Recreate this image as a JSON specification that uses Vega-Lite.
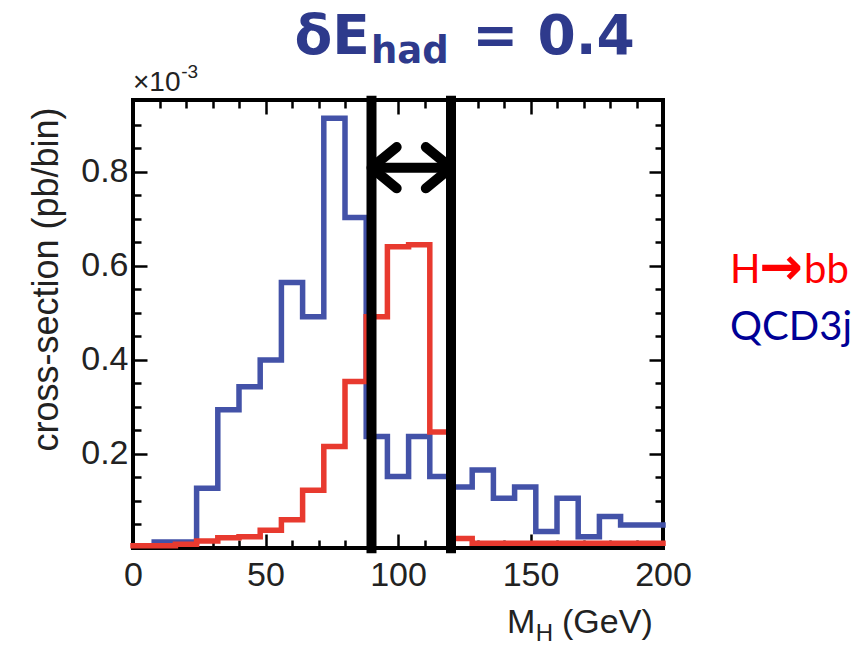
{
  "$schema": "https://vega.github.io/schema/vega-lite/v6.json",
  "width": 530,
  "height": 448,
  "autosize": "none",
  "padding": {"left": 133, "top": 100, "right": 205, "bottom": 97},
  "background": "white",
  "config": {
    "view": {"stroke": "black", "strokeWidth": 4},
    "axis": {"domain": false, "grid": false, "tickColor": "black", "tickWidth": 2.5, "labelFont": "Liberation Sans", "labelFontSize": 34, "labelColor": "#222222", "labelFlush": false, "labelOverlap": false}
  },
  "datasets": {
    "hist": [
      {"mass": 8, "xsec": 0.013, "series": "QCD3j"},
      {"mass": 16, "xsec": 0.013, "series": "QCD3j"},
      {"mass": 24, "xsec": 0.127, "series": "QCD3j"},
      {"mass": 32, "xsec": 0.294, "series": "QCD3j"},
      {"mass": 40, "xsec": 0.343, "series": "QCD3j"},
      {"mass": 48, "xsec": 0.400, "series": "QCD3j"},
      {"mass": 56, "xsec": 0.565, "series": "QCD3j"},
      {"mass": 64, "xsec": 0.492, "series": "QCD3j"},
      {"mass": 72, "xsec": 0.914, "series": "QCD3j"},
      {"mass": 80, "xsec": 0.703, "series": "QCD3j"},
      {"mass": 88, "xsec": 0.237, "series": "QCD3j"},
      {"mass": 96, "xsec": 0.152, "series": "QCD3j"},
      {"mass": 104, "xsec": 0.237, "series": "QCD3j"},
      {"mass": 112, "xsec": 0.152, "series": "QCD3j"},
      {"mass": 120, "xsec": 0.130, "series": "QCD3j"},
      {"mass": 128, "xsec": 0.166, "series": "QCD3j"},
      {"mass": 136, "xsec": 0.106, "series": "QCD3j"},
      {"mass": 144, "xsec": 0.130, "series": "QCD3j"},
      {"mass": 152, "xsec": 0.035, "series": "QCD3j"},
      {"mass": 160, "xsec": 0.106, "series": "QCD3j"},
      {"mass": 168, "xsec": 0.024, "series": "QCD3j"},
      {"mass": 176, "xsec": 0.067, "series": "QCD3j"},
      {"mass": 184, "xsec": 0.049, "series": "QCD3j"},
      {"mass": 192, "xsec": 0.049, "series": "QCD3j"},
      {"mass": 200, "xsec": 0.049, "series": "QCD3j"},
      {"mass": 0, "xsec": 0.005, "series": "H→bb"},
      {"mass": 8, "xsec": 0.005, "series": "H→bb"},
      {"mass": 16, "xsec": 0.008, "series": "H→bb"},
      {"mass": 24, "xsec": 0.015, "series": "H→bb"},
      {"mass": 32, "xsec": 0.022, "series": "H→bb"},
      {"mass": 40, "xsec": 0.024, "series": "H→bb"},
      {"mass": 48, "xsec": 0.038, "series": "H→bb"},
      {"mass": 56, "xsec": 0.060, "series": "H→bb"},
      {"mass": 64, "xsec": 0.123, "series": "H→bb"},
      {"mass": 72, "xsec": 0.216, "series": "H→bb"},
      {"mass": 80, "xsec": 0.354, "series": "H→bb"},
      {"mass": 88, "xsec": 0.492, "series": "H→bb"},
      {"mass": 96, "xsec": 0.641, "series": "H→bb"},
      {"mass": 104, "xsec": 0.645, "series": "H→bb"},
      {"mass": 112, "xsec": 0.247, "series": "H→bb"},
      {"mass": 120, "xsec": 0.020, "series": "H→bb"},
      {"mass": 128, "xsec": 0.010, "series": "H→bb"},
      {"mass": 136, "xsec": 0.010, "series": "H→bb"},
      {"mass": 144, "xsec": 0.010, "series": "H→bb"},
      {"mass": 152, "xsec": 0.010, "series": "H→bb"},
      {"mass": 160, "xsec": 0.010, "series": "H→bb"},
      {"mass": 168, "xsec": 0.010, "series": "H→bb"},
      {"mass": 176, "xsec": 0.010, "series": "H→bb"},
      {"mass": 184, "xsec": 0.010, "series": "H→bb"},
      {"mass": 192, "xsec": 0.010, "series": "H→bb"},
      {"mass": 200, "xsec": 0.010, "series": "H→bb"}
    ],
    "cuts": [
      {"cut": 90, "side": "left"},
      {"cut": 120, "side": "right"}
    ]
  },
  "layer": [
    {
      "data": {"name": "hist"},
      "mark": {"type": "line", "interpolate": "step-after", "strokeWidth": 5.5, "strokeJoin": "miter", "strokeCap": "square"},
      "encoding": {
        "x": {"field": "mass", "type": "quantitative", "scale": {"domain": [0, 200], "nice": false, "zero": false},
          "axis": {"orient": "bottom", "values": [0, 50, 100, 150, 200], "format": "d", "tickSize": -14, "labelPadding": 24, "title": null}},
        "y": {"field": "xsec", "type": "quantitative", "scale": {"domain": [0, 0.953], "nice": false},
          "axis": {"orient": "left", "values": [0.2, 0.4, 0.6, 0.8], "format": ".1f", "tickSize": -14, "labelPadding": 19,
            "title": "cross-section (pb/bin)", "titleFont": "Liberation Sans", "titleFontSize": 36, "titleFontWeight": "normal", "titleColor": "#222222",
            "titleAngle": 270, "titleX": -76, "titleY": 179, "titleAlign": "center", "titleBaseline": "alphabetic"}},
        "color": {"field": "series", "type": "nominal", "scale": {"domain": ["QCD3j", "H→bb"], "range": ["#4352A8", "#E83A2F"]}, "legend": null}
      }
    },
    {
      "data": {"name": "cuts"},
      "mark": {"type": "rule", "strokeWidth": 10, "color": "black"},
      "encoding": {
        "x": {"field": "cut", "type": "quantitative",
          "axis": {"orient": "bottom", "values": [10, 20, 30, 40, 60, 70, 80, 90, 110, 120, 130, 140, 160, 170, 180, 190], "tickSize": -8, "labels": false, "title": null}},
        "y": {"datum": -0.011,
          "axis": {"orient": "left", "values": [0.05, 0.1, 0.15, 0.25, 0.3, 0.35, 0.45, 0.5, 0.55, 0.65, 0.7, 0.75, 0.85, 0.9], "tickSize": -8, "labels": false, "title": null}},
        "y2": {"datum": 0.962}
      }
    },
    {
      "data": {"values": [{}]},
      "mark": {"type": "rule", "strokeWidth": 10, "color": "black"},
      "encoding": {
        "x": {"datum": 90, "axis": {"orient": "top", "values": [50, 100, 150], "tickSize": -14, "labels": false, "title": null}},
        "x2": {"datum": 120},
        "y": {"datum": 0.809, "axis": {"orient": "right", "values": [0.2, 0.4, 0.6, 0.8], "tickSize": -14, "labels": false, "title": null}}
      }
    },
    {
      "data": {"name": "cuts"},
      "mark": {"type": "point", "filled": false, "strokeWidth": 10, "color": "black", "opacity": 1, "size": 2100, "strokeJoin": "round", "strokeCap": "round"},
      "encoding": {
        "x": {"field": "cut", "type": "quantitative",
          "axis": {"orient": "top", "values": [10, 20, 30, 40, 60, 70, 80, 90, 110, 120, 130, 140, 160, 170, 180, 190], "tickSize": -8, "labels": false, "title": null}},
        "y": {"datum": 0.809,
          "axis": {"orient": "right", "values": [0.05, 0.1, 0.15, 0.25, 0.3, 0.35, 0.45, 0.5, 0.55, 0.65, 0.7, 0.75, 0.85, 0.9], "tickSize": -8, "labels": false, "title": null}},
        "shape": {"field": "side", "type": "nominal", "scale": {"domain": ["left", "right"], "range": ["M1.1,-0.9L0,0L1.1,0.9", "M-1.1,-0.9L0,0L-1.1,0.9"]}, "legend": null}
      }
    },
    {
      "data": {"values": [{}]},
      "mark": {"type": "text", "text": "δE", "align": "right", "baseline": "alphabetic", "font": "DejaVu Sans", "fontWeight": "bold", "fontSize": 55, "color": "#2E3A8C"},
      "encoding": {"x": {"datum": 89.4, "axis": null}, "y": {"datum": 1.051, "axis": null}}
    },
    {
      "data": {"values": [{}]},
      "mark": {"type": "text", "text": "had", "align": "left", "baseline": "alphabetic", "font": "DejaVu Sans", "fontWeight": "bold", "fontSize": 37, "color": "#2E3A8C"},
      "encoding": {"x": {"datum": 89.8, "axis": null}, "y": {"datum": 1.032, "axis": null}}
    },
    {
      "data": {"values": [{}]},
      "mark": {"type": "text", "text": "= 0.4", "align": "left", "baseline": "alphabetic", "font": "DejaVu Sans", "fontWeight": "bold", "fontSize": 55, "color": "#2E3A8C"},
      "encoding": {"x": {"datum": 128.0, "axis": null}, "y": {"datum": 1.051, "axis": null}}
    },
    {
      "data": {"values": [{}]},
      "mark": {"type": "text", "text": "×10", "align": "left", "baseline": "alphabetic", "font": "Liberation Sans", "fontSize": 28, "color": "#222222"},
      "encoding": {"x": {"datum": 0, "axis": null}, "y": {"datum": 0.972, "axis": null}}
    },
    {
      "data": {"values": [{}]},
      "mark": {"type": "text", "text": "-3", "align": "left", "baseline": "alphabetic", "font": "Liberation Sans", "fontSize": 19, "color": "#222222"},
      "encoding": {"x": {"datum": 18.2, "axis": null}, "y": {"datum": 1.0, "axis": null}}
    },
    {
      "data": {"values": [{}]},
      "mark": {"type": "text", "text": "H", "align": "left", "baseline": "alphabetic", "font": "Lato", "fontSize": 40, "color": "#FF0000"},
      "encoding": {"x": {"datum": 225.3, "axis": null}, "y": {"datum": 0.564, "axis": null}}
    },
    {
      "data": {"values": [{}]},
      "mark": {"type": "text", "text": "→", "align": "left", "baseline": "alphabetic", "font": "DejaVu Sans", "fontWeight": "bold", "fontSize": 52, "color": "#FF0000"},
      "encoding": {"x": {"datum": 236.3, "axis": null}, "y": {"datum": 0.562, "axis": null}}
    },
    {
      "data": {"values": [{}]},
      "mark": {"type": "text", "text": "bb", "align": "left", "baseline": "alphabetic", "font": "Lato", "fontSize": 40, "color": "#FF0000"},
      "encoding": {"x": {"datum": 253.2, "axis": null}, "y": {"datum": 0.564, "axis": null}}
    },
    {
      "data": {"values": [{}]},
      "mark": {"type": "text", "text": "QCD3j", "align": "left", "baseline": "alphabetic", "font": "Lato", "fontSize": 40, "color": "#000096"},
      "encoding": {"x": {"datum": 225.3, "axis": null}, "y": {"datum": 0.4426, "axis": null}}
    },
    {
      "data": {"values": [{}]},
      "mark": {"type": "text", "text": "M", "align": "left", "baseline": "alphabetic", "font": "Liberation Sans", "fontSize": 34, "color": "#222222"},
      "encoding": {"x": {"datum": 141.1, "axis": null}, "y": {"datum": -0.181, "axis": null}}
    },
    {
      "data": {"values": [{}]},
      "mark": {"type": "text", "text": "H", "align": "left", "baseline": "alphabetic", "font": "Liberation Sans", "fontSize": 24, "color": "#222222"},
      "encoding": {"x": {"datum": 152.0, "axis": null}, "y": {"datum": -0.198, "axis": null}}
    },
    {
      "data": {"values": [{}]},
      "mark": {"type": "text", "text": "(GeV)", "align": "left", "baseline": "alphabetic", "font": "Liberation Sans", "fontSize": 34, "color": "#222222"},
      "encoding": {"x": {"datum": 161.9, "axis": null}, "y": {"datum": -0.181, "axis": null}}
    }
  ],
  "resolve": {"axis": {"x": "independent", "y": "independent"}}
}
